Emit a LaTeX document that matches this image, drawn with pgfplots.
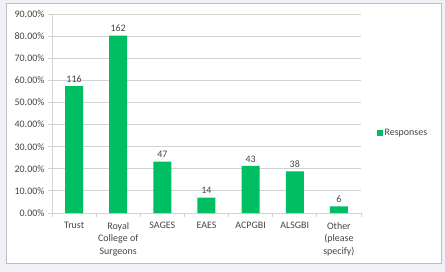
\documentclass[border=0pt]{standalone}
\usepackage{pgfplots}
\pgfplotsset{compat=1.18}
\usepackage{pgfplotstable}
\usepackage{fontspec}
\setmainfont{Carlito}
\definecolor{bargreen}{RGB}{0,191,99}
\definecolor{outerbg}{RGB}{240,241,246}
\definecolor{framegray}{RGB}{191,191,191}
\definecolor{gridgray}{RGB}{210,210,210}
\definecolor{txtgray}{RGB}{70,70,70}
\pgfplotstableread{
x y n
0 57.43 116
1 80.20 162
2 23.27 47
3 6.93 14
4 21.29 43
5 18.81 38
6 2.97 6
}\datatable
\begin{document}
\begin{tikzpicture}
\fill[outerbg] (-52bp,-59bp) rectangle (393bp,213bp);
\filldraw[fill=white,draw=framegray,line width=0.8bp] (-46bp,-50bp) rectangle (389bp,210bp);
\begin{axis}[
  at={(0,0)}, anchor=south west,
  scale only axis, width=309bp, height=199bp,
  xmin=-0.5, xmax=6.5, ymin=0, ymax=90,
  axis x line*=bottom, axis y line*=left,
  axis line style={draw=gridgray, line width=0.8bp, -},
  xtick={0,...,6},
  xticklabels={Trust,{Royal\\College of\\Surgeons},SAGES,EAES,ACPGBI,ALSGBI,{Other\\(please\\specify)}},
  xticklabel style={align=center, font=\fontsize{10}{12.4}\selectfont, text=txtgray, yshift=-2bp},
  major x tick style={draw=none},
  minor xtick={-0.5,0.5,...,6.5},
  minor tick length=4bp,
  minor x tick style={draw=gridgray, line width=0.8bp},
  xtick align=outside, ytick align=outside,
  ytick={0,10,...,90},
  major tick length=4bp,
  y tick style={draw=gridgray, line width=0.8bp},
  ymajorgrids, grid style={draw=gridgray, line width=0.8bp},
  /pgf/number format/assume math mode=true,
  yticklabel={\pgfmathprintnumber[fixed,fixed zerofill,precision=2]{\tick}\%},
  yticklabel style={font=\fontsize{10}{12}\selectfont, text=txtgray},
  ybar, bar width=18bp,
  nodes near coords,
  point meta=explicit symbolic,
  nodes near coords style={font=\fontsize{10}{12}\selectfont, text=txtgray, inner sep=3.5bp},
  legend style={at={(1.05,0.40)}, anchor=west, draw=none, fill=none, font=\fontsize{10}{12}\selectfont, text=txtgray, inner sep=0pt},
  legend image code/.code={\fill[bargreen] (0bp,-3bp) rectangle (6bp,3bp);},
  clip=false,
]
\addplot[fill=bargreen, draw=none] table[x=x, y=y, meta=n] {\datatable};
\addlegendentry{Responses}
\end{axis}
\end{tikzpicture}
\end{document}
